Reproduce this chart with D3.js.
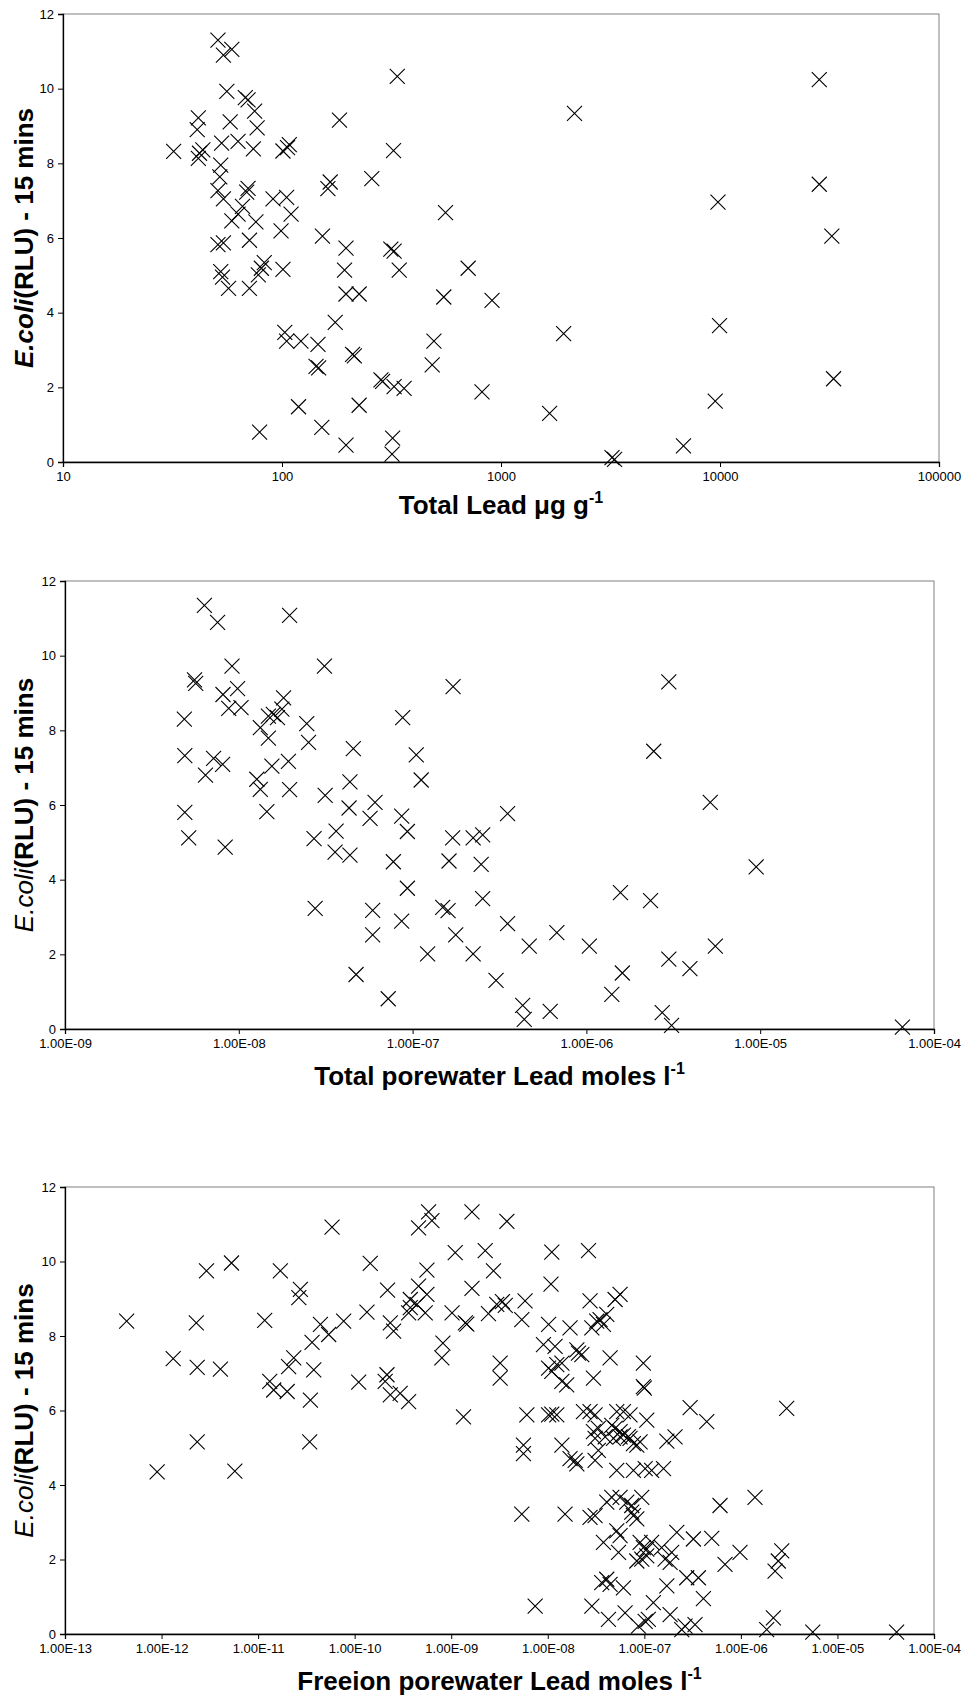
<!DOCTYPE html>
<html>
<head>
<meta charset="utf-8">
<script src="https://cdn.jsdelivr.net/npm/d3@7"></script>
<style>
  body { margin: 0; background: #fff; }
  text { font-family: Arial, "Liberation Sans", sans-serif; }
</style>
</head>
<body>
<div id="chart"></div>
<script>
// E.coli (RLU) after 15 mins against total lead in soil (ug/g)
const totalLead = [
  [51, 11.3], [59, 11.05], [54, 10.9], [56, 9.93], [68, 9.76], [70, 9.7], [75, 9.4], [77, 8.95],
  [58, 9.11], [41.5, 9.22], [41, 8.9], [32, 8.32], [42, 8.27], [41.5, 8.13], [43.5, 8.36], [53, 8.54],
  [63, 8.59], [74, 8.39], [101, 8.33], [108, 8.5], [106, 8.42], [52.5, 7.95], [52, 7.64], [51, 7.27],
  [54, 7.05], [69, 7.23], [70, 7.33], [66, 6.85], [63, 6.64], [59, 6.46], [76, 6.43], [91, 7.05],
  [105, 7.09], [110, 6.64], [99, 6.19], [51, 5.82], [54, 5.87], [71, 5.94], [52.5, 5.1], [53.5, 4.95],
  [57, 4.65], [71, 4.65], [83, 5.34], [80.5, 5.19], [78, 5.01], [101, 5.16],
  [183, 9.16], [336, 10.33], [323, 8.34], [166, 7.5], [162, 7.32], [257, 7.59], [153, 6.05], [196, 5.73],
  [314, 5.7], [325, 5.65], [558, 6.68], [193, 5.14], [196, 4.5], [225, 4.5], [343, 5.14], [708, 5.19],
  [548, 4.42], [175, 3.74], [103, 3.47], [105, 3.24], [122, 3.24], [146, 3.15], [143, 2.56], [147, 2.52],
  [210, 2.88], [214, 2.84], [283, 2.2], [288, 2.16], [325, 2.02], [361, 1.97], [485, 2.6], [494, 3.24],
  [225, 1.52], [119, 1.48], [152, 0.93], [79, 0.8], [196, 0.45], [320, 0.64], [318, 0.21], [819, 1.88],
  [910, 4.33], [2166, 9.34], [1932, 3.44], [1667, 1.3], [3213, 0.12], [3300, 0.07], [6810, 0.43],
  [9510, 1.63], [9950, 3.65], [9790, 6.96], [28400, 10.24], [28400, 7.44], [32400, 6.05], [33000, 2.23]
]

// against total porewater lead (moles/l)
const poreLead = [
  [6.34e-9, 11.35], [7.55e-9, 10.89], [1.96e-8, 11.08], [9.14e-9, 9.72], [3.11e-8, 9.72], [5.56e-9, 9.35],
  [5.65e-9, 9.26], [1.71e-7, 9.17], [9.84e-9, 9.12], [8.11e-9, 8.96], [8.75e-9, 8.59], [1.03e-8, 8.61],
  [4.86e-9, 8.3], [1.81e-8, 8.87], [1.48e-8, 8.38], [1.58e-8, 8.43], [1.67e-8, 8.34], [1.77e-8, 8.57],
  [1.33e-8, 8.07], [1.48e-8, 7.79], [2.46e-8, 8.18], [2.52e-8, 7.68], [8.77e-8, 8.34], [4.56e-8, 7.51],
  [4.89e-9, 7.32], [7.16e-9, 7.25], [8.07e-9, 7.09], [6.43e-9, 6.8], [1.55e-8, 7.04], [1.93e-8, 7.17],
  [1.05e-7, 7.34], [1.12e-7, 6.67], [4.36e-8, 6.62], [1.27e-8, 6.69], [1.33e-8, 6.42], [1.96e-8, 6.41],
  [3.14e-8, 6.26], [4.31e-8, 5.92], [6.08e-8, 6.07], [5.69e-8, 5.64], [1.45e-8, 5.82], [4.89e-9, 5.8],
  [8.65e-8, 5.7], [9.33e-8, 5.29], [3.63e-8, 5.3], [5.15e-9, 5.12], [2.71e-8, 5.1], [3.58e-8, 4.74],
  [4.36e-8, 4.66], [8.35e-9, 4.87], [7.75e-8, 4.48], [1.7e-7, 5.12], [1.62e-7, 4.5], [2.23e-7, 5.12],
  [2.53e-7, 5.2], [2.48e-7, 4.41], [2.53e-7, 3.49], [9.33e-8, 3.77], [2.75e-8, 3.23], [5.89e-8, 3.18],
  [1.49e-7, 3.26], [1.6e-7, 3.17], [8.65e-8, 2.89], [5.89e-8, 2.52], [1.77e-7, 2.52], [1.22e-7, 2.01],
  [2.23e-7, 2.01], [4.73e-8, 1.46], [7.24e-8, 0.81], [3.52e-7, 5.77], [3.52e-7, 2.82], [3.02e-7, 1.3],
  [4.69e-7, 2.22], [6.76e-7, 2.58], [4.3e-7, 0.63], [4.39e-7, 0.26], [6.19e-7, 0.47], [1.04e-6, 2.22],
  [1.57e-6, 3.65], [1.61e-6, 1.5], [1.4e-6, 0.93], [2.34e-6, 3.44], [2.44e-6, 7.44], [2.98e-6, 9.3],
  [2.98e-6, 1.87], [2.73e-6, 0.44], [3.09e-6, 0.1], [3.94e-6, 1.62], [5.16e-6, 6.07], [5.52e-6, 2.22],
  [9.48e-6, 4.34], [6.58e-5, 0.05]
]

// against free ion porewater lead (moles/l)
const freeLead = [
  [4.35e-13, 8.4], [9.0e-13, 4.35], [1.32e-12, 7.39], [2.29e-12, 8.35], [2.34e-12, 7.16], [2.34e-12, 5.16],
  [2.92e-12, 9.75], [4.07e-12, 7.11], [5.3e-12, 9.96], [5.74e-12, 4.37], [1.17e-11, 8.42], [1.32e-11, 6.78],
  [1.45e-11, 6.55], [1.7e-11, 9.75], [2.0e-11, 6.51], [2.07e-11, 7.18], [2.34e-11, 7.41], [2.74e-11, 9.25],
  [2.64e-11, 9.03], [3.48e-11, 6.28], [3.42e-11, 5.16], [3.62e-11, 7.83], [3.77e-11, 7.09], [4.42e-11, 8.31],
  [5.38e-11, 8.04], [5.83e-11, 10.92], [7.69e-11, 8.4], [1.1e-10, 6.76], [1.34e-10, 8.64], [1.45e-10, 9.95],
  [5.83e-10, 11.33], [6.31e-10, 11.1], [4.59e-10, 10.9], [1.64e-9, 11.33], [1.1e-9, 10.24], [2.25e-9, 10.29],
  [5.6e-10, 9.77], [2.19e-10, 9.23], [4.59e-10, 9.34], [5.6e-10, 9.12], [3.77e-10, 8.98], [1.64e-9, 9.28],
  [2.74e-9, 9.75], [3.77e-10, 8.76], [4.42e-10, 8.85], [5.38e-10, 8.62], [3.62e-10, 8.62], [1.02e-9, 8.62],
  [1.4e-9, 8.35], [1.45e-9, 8.32], [2.43e-9, 8.6], [2.96e-9, 8.85], [2.34e-10, 8.35], [2.53e-10, 8.13],
  [8.2e-10, 7.81], [8.0e-10, 7.41], [2.16e-10, 6.96], [2.07e-10, 6.78], [2.34e-10, 6.42], [2.96e-10, 6.46],
  [3.62e-10, 6.24], [1.34e-9, 5.83],
  [3.77e-9, 11.08], [1.1e-8, 10.25], [2.64e-8, 10.29], [1.08e-8, 9.39], [5.82e-9, 8.94], [2.74e-8, 8.94],
  [4.98e-8, 8.98], [5.61e-8, 9.12], [3.39e-9, 8.92], [3.63e-9, 8.82], [5.38e-9, 8.44], [1.02e-8, 8.31],
  [1.7e-8, 8.22], [2.86e-8, 8.22], [3.21e-8, 8.4], [3.48e-8, 8.44], [3.77e-8, 8.31], [4.08e-8, 8.58],
  [9.02e-9, 7.77], [1.19e-8, 7.72], [2.0e-8, 7.63], [2.08e-8, 7.54], [2.25e-8, 7.5], [4.42e-8, 7.41],
  [9.77e-8, 7.27], [9.77e-8, 6.64], [1.0e-7, 6.6], [3.21e-9, 7.27], [3.21e-9, 6.87], [1.02e-8, 7.14],
  [1.1e-8, 7.05], [1.24e-8, 7.23], [1.4e-8, 7.27], [1.4e-8, 6.78], [1.57e-8, 6.69], [2.97e-8, 6.87],
  [6.07e-9, 5.88], [1.02e-8, 5.88], [1.1e-8, 5.9], [1.24e-8, 5.88], [2.34e-8, 5.97], [2.74e-8, 5.97],
  [3.09e-8, 5.88], [5.18e-8, 5.97], [6.07e-8, 5.97], [7.11e-8, 5.88], [1.06e-7, 5.74], [1.71e-7, 5.18],
  [4.6e-8, 5.6], [4.98e-8, 5.52], [5.61e-8, 5.43], [6.07e-8, 5.34], [6.84e-8, 5.3], [2.97e-8, 5.43],
  [3.34e-8, 5.52], [5.6e-9, 5.07], [5.6e-9, 4.84], [1.4e-8, 5.07], [1.7e-8, 4.71], [1.92e-8, 4.66],
  [2.0e-8, 4.57], [3.09e-8, 4.66], [3.34e-8, 4.93], [3.09e-8, 5.25], [3.93e-8, 5.29], [4.79e-8, 5.25],
  [5.61e-8, 5.29], [7.11e-8, 5.25], [7.71e-8, 5.11], [8.36e-8, 5.07], [9.04e-8, 5.16], [5.18e-8, 4.39],
  [7.71e-8, 4.39], [1.02e-7, 4.44], [1.19e-7, 4.39], [1.58e-7, 4.44], [4.6e-8, 3.67], [5.61e-8, 3.67],
  [6.58e-8, 3.54], [7.41e-8, 3.45], [9.4e-8, 3.67], [7.71e-8, 3.18], [8.36e-8, 3.09], [7.41e-8, 3.27],
  [4.08e-8, 3.54], [5.38e-9, 3.22], [1.51e-8, 3.22], [2.74e-8, 3.13], [3.09e-8, 3.18], [5.18e-8, 2.77],
  [5.61e-8, 2.64], [3.77e-8, 2.46], [5.4e-8, 2.19], [9.04e-8, 2.46], [9.77e-8, 2.32], [1.06e-7, 2.28],
  [8.36e-8, 1.96], [9.4e-8, 2.01], [1.06e-7, 2.1], [1.19e-7, 2.46], [1.51e-7, 2.32], [1.64e-7, 2.01],
  [1.85e-7, 1.92], [1.92e-7, 2.19], [2.17e-7, 2.73], [3.62e-8, 1.38], [4.08e-8, 1.47], [4.42e-8, 1.33],
  [6.07e-8, 1.24], [1.71e-7, 1.29], [7.4e-9, 0.75], [2.86e-8, 0.75], [4.25e-8, 0.39], [6.32e-8, 0.57],
  [8.69e-8, 0.21], [1.02e-7, 0.34], [1.1e-7, 0.39], [1.24e-7, 0.84], [1.85e-7, 0.52], [2.08e-7, 5.29],
  [2.98e-7, 6.08], [4.43e-7, 5.7], [2.98e-6, 6.06], [6.08e-7, 3.45], [1.4e-6, 3.67], [3.22e-7, 2.55],
  [4.99e-7, 2.57], [6.85e-7, 1.87], [9.79e-7, 2.19], [2.65e-6, 2.23], [2.44e-6, 1.96], [2.26e-6, 1.69],
  [2.75e-7, 1.51], [3.63e-7, 1.51], [4.09e-7, 0.95], [2.44e-7, 0.12], [2.64e-7, 0.21], [3.35e-7, 0.25],
  [1.85e-6, 0.12], [2.17e-6, 0.43], [5.55e-6, 0.05], [4.1e-5, 0.05]
]

const yTicks = [0, 2, 4, 6, 8, 10, 12]
const xTicks1 = [10, 100, 1000, 10000, 100000]
const xTicks2 = [1e-9, 1e-8, 1e-7, 1e-6, 1e-5, 1e-4]
const xTicks3 = [1e-13, 1e-12, 1e-11, 1e-10, 1e-9, 1e-8, 1e-7, 1e-6, 1e-5, 1e-4]

const width = 965
const height = 1697

const svg = d3.select('#chart').append('svg')
    .attr('width', width)
    .attr('height', height)

// excel style 1.00E-09
function sci(v) {
    const e = Math.round(Math.log10(v))
    const s = e < 0 ? '-' : '+'
    return '1.00E' + s + String(Math.abs(e)).padStart(2, '0')
}

const panels = [
    { data: totalLead, ticks: xTicks1, fmt: d3.format('d'), left: 63, right: 939, top: 14, bottom: 462,
      title: 'Total Lead \u03bcg g', titleY: 514, boldItalic: true },
    { data: poreLead, ticks: xTicks2, fmt: sci, left: 65, right: 934, top: 581, bottom: 1029,
      title: 'Total porewater Lead moles l', titleY: 1085, boldItalic: false },
    { data: freeLead, ticks: xTicks3, fmt: sci, left: 65, right: 934, top: 1187, bottom: 1634,
      title: 'Freeion porewater Lead moles l', titleY: 1690, boldItalic: false }
]

panels.forEach((p) => {
    const x = d3.scaleLog()
        .domain([p.ticks[0], p.ticks[p.ticks.length - 1]])
        .range([p.left, p.right])
    const y = d3.scaleLinear()
        .domain([0, 12])
        .range([p.bottom, p.top])

    const g = svg.append('g')

    // plot area frame
    g.append('rect')
        .attr('x', p.left)
        .attr('y', p.top)
        .attr('width', p.right - p.left)
        .attr('height', p.bottom - p.top)
        .attr('fill', 'none')
        .attr('stroke', '#808080')
        .attr('stroke-width', 1)

    const yAxis = g.append('g')
        .attr('transform', 'translate(' + p.left + ',0)')
        .call(d3.axisLeft(y).tickValues(yTicks).tickSize(5).tickPadding(4))
    const xAxis = g.append('g')
        .attr('transform', 'translate(0,' + p.bottom + ')')
        .call(d3.axisBottom(x).tickValues(p.ticks).tickFormat(p.fmt).tickSize(5).tickPadding(5))

    ;[yAxis, xAxis].forEach((a) => {
        a.select('.domain').attr('stroke', '#000').attr('stroke-width', 1.3)
        a.selectAll('.tick line').attr('stroke', '#000')
        a.selectAll('.tick text')
            .attr('fill', '#000')
            .style('font-size', '13px')
            .style('font-family', 'Arial, "Liberation Sans", sans-serif')
    })

    // x markers
    const s = 7.5
    g.append('g')
        .selectAll('path')
        .data(p.data)
        .enter()
        .append('path')
        .attr('d', (d) => {
            const cx = x(d[0])
            const cy = y(d[1])
            return 'M' + (cx - s) + ',' + (cy - s) + 'L' + (cx + s) + ',' + (cy + s) +
                'M' + (cx - s) + ',' + (cy + s) + 'L' + (cx + s) + ',' + (cy - s)
        })
        .attr('stroke', '#000')
        .attr('stroke-width', 1.1)
        .attr('fill', 'none')

    // x title with superscript
    const xt = g.append('text')
        .attr('x', (p.left + p.right) / 2)
        .attr('y', p.titleY)
        .attr('text-anchor', 'middle')
        .style('font-size', '26px')
        .style('font-weight', 'bold')
    xt.append('tspan').text(p.title)
    xt.append('tspan')
        .attr('dy', -11)
        .style('font-size', '16px')
        .text('-1')

    // y title
    const yt = g.append('text')
        .attr('transform', 'translate(33,' + (p.top + p.bottom) / 2 + ') rotate(-90)')
        .attr('text-anchor', 'middle')
        .style('font-size', '26px')
    yt.append('tspan')
        .style('font-style', 'italic')
        .style('font-weight', p.boldItalic ? 'bold' : 'normal')
        .text('E.coli')
    yt.append('tspan')
        .style('font-weight', 'bold')
        .text('(RLU) - 15 mins')
})
</script>
</body>
</html>
